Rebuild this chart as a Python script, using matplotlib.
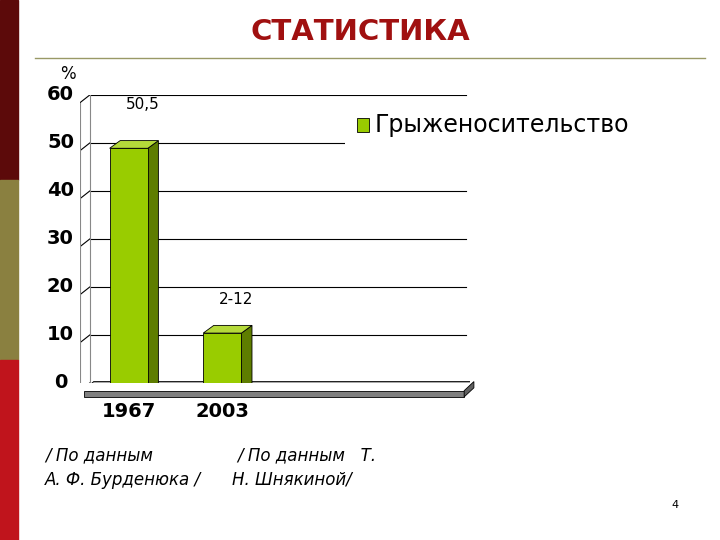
import matplotlib
matplotlib.use("Agg")
import matplotlib.pyplot as plt
from matplotlib.patches import Polygon, Rectangle

years = ["1967", "2003"]
values = [50.5, 12]
value_labels = ["50,5", "2-12"]
yticks = [0, 10, 20, 30, 40, 50, 60]
legend_label = "Грыженосительство"
title = "СТАТИСТИКА"

W, H = 720, 540
fig = plt.figure(figsize=(W/100, H/100), dpi=100)
bg = fig.add_axes([0, 0, 1, 1])
bg.set_xlim(0, W); bg.set_ylim(H, 0); bg.axis("off")
bg.add_patch(Rectangle((0, 0), 18, 180, color="#5C0A0A"))
bg.add_patch(Rectangle((0, 180), 18, 180, color="#8A8040"))
bg.add_patch(Rectangle((0, 360), 18, 180, color="#C0141C"))
bg.plot([35, 705], [58, 58], color="#999966", lw=1)
bg.text(360, 32, title, ha="center", va="center", fontsize=21, fontweight="bold", color="#A01010")
bg.text(68, 74, "%", ha="center", va="center", fontsize=12)
bg.text(45, 455, "/ По данным", fontsize=12, style="italic", va="center")
bg.text(45, 480, "А. Ф. Бурденюка /", fontsize=12, style="italic", va="center")
bg.text(237, 455, "/ По данным   Т.", fontsize=12, style="italic", va="center")
bg.text(232, 480, "Н. Шнякиной/", fontsize=12, style="italic", va="center")
bg.text(675, 505, "4", fontsize=8, ha="center", va="center")

ax = fig.add_axes([80/W, 1-383/H, 390/W, (383-95)/H])
ax.set_xlim(0, 10); ax.set_ylim(0, 60)
ax.axis("off")
dx, dy = 0.27, 1.6
for t in yticks:
    ax.plot([0.25, 9.9], [t, t], color="black", lw=0.8, zorder=1)
    ax.plot([0.0, 0.25], [t - dy, t], color="black", lw=0.8, zorder=1)
    ax.text(-0.5, t, str(t), ha="center", va="center", fontsize=14, fontweight="bold")
ax.plot([0.25, 0.25], [0, 60], color="#888888", lw=0.8, zorder=1)
ax.plot([0.0, 0.0], [-dy, 60 - dy], color="#888888", lw=0.8, zorder=1)
ax.add_patch(Polygon([(0.1, -dy), (9.85, -dy), (10.1, 0.3), (0.35, 0.3)], closed=True,
                     facecolor="#A8A8A8", edgecolor="black", lw=0.6, zorder=2))
ax.add_patch(Polygon([(0.1, -dy), (9.85, -dy), (9.85, -2.9), (0.1, -2.9)], closed=True,
                     facecolor="#808080", edgecolor="black", lw=0.6, zorder=2, clip_on=False))
ax.add_patch(Polygon([(9.85, -dy), (10.1, 0.3), (10.1, -1.0), (9.85, -2.9)], closed=True,
                     facecolor="#606060", edgecolor="black", lw=0.6, zorder=2, clip_on=False))
ax.add_patch(Rectangle((6.8, 45.5), 3.3, 11, facecolor="white", edgecolor="none", zorder=3))
ax.add_patch(Rectangle((7.1, 52.3), 0.32, 2.9, facecolor="#99CC00", edgecolor="black", lw=0.6, zorder=4))
ax.text(7.55, 53.7, legend_label, fontsize=17, va="center", zorder=4, clip_on=False)

centers = [1.25, 3.65]
bw = 0.98
for c, v, yr, lab in zip(centers, values, years, value_labels):
    x0, x1 = c - bw/2, c + bw/2
    y0, y1 = -dy, v - dy
    ax.add_patch(Polygon([(x1, y0), (x1+dx, y0+dy), (x1+dx, y1+dy), (x1, y1)],
                         facecolor="#5E7D00", edgecolor="black", lw=0.6, zorder=5))
    ax.add_patch(Polygon([(x0, y1), (x1, y1), (x1+dx, y1+dy), (x0+dx, y1+dy)],
                         facecolor="#B5DA3A", edgecolor="black", lw=0.6, zorder=5))
    ax.add_patch(Rectangle((x0, y0), bw, v, facecolor="#99CC00", edgecolor="black", lw=0.6, zorder=6))
    ax.text(c, -6.0, yr, ha="center", va="center", fontsize=14, fontweight="bold", clip_on=False)
    ax.text(c + 0.35, v + 7.5 if v > 30 else v + 5.5, lab, ha="center", va="center", fontsize=11)

fig.savefig("out.png", dpi=100)
